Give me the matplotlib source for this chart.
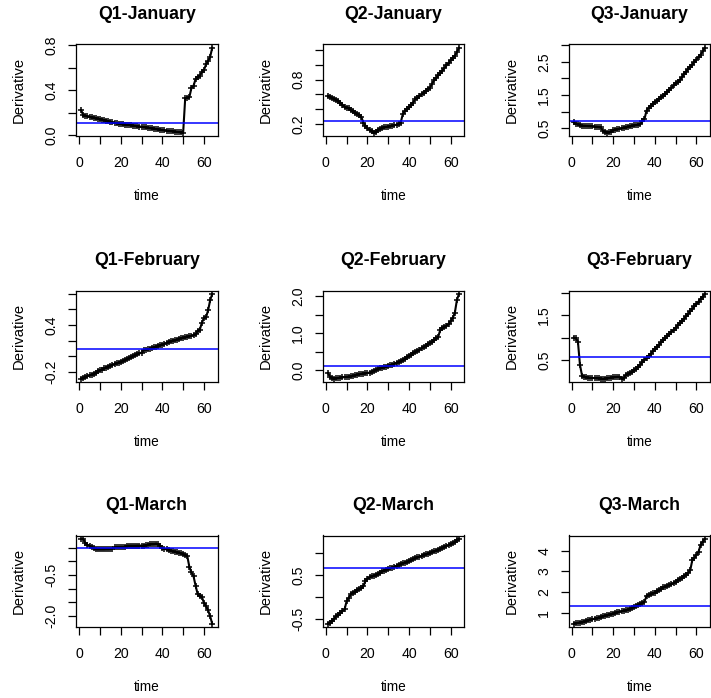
import numpy as np
import matplotlib
matplotlib.use("Agg")
import matplotlib.pyplot as plt

plt.rcParams['font.family'] = ['Liberation Sans', 'DejaVu Sans']

titles = ["Q1-January", "Q2-January", "Q3-January",
          "Q1-February", "Q2-February", "Q3-February",
          "Q1-March", "Q2-March", "Q3-March"]

q1_jan = [0.22, 0.175, 0.17, 0.165, 0.16, 0.156, 0.152, 0.148, 0.145, 0.141,
          0.136, 0.132, 0.128, 0.122, 0.117, 0.112, 0.109, 0.105, 0.101, 0.097,
          0.095, 0.093, 0.091, 0.089, 0.086, 0.083, 0.081, 0.078, 0.075, 0.073,
          0.07, 0.067, 0.064, 0.061, 0.058, 0.055, 0.052, 0.049, 0.046, 0.043,
          0.041, 0.039, 0.037, 0.034, 0.032, 0.03, 0.027, 0.025, 0.022, 0.02,
          0.33, 0.33, 0.34, 0.42, 0.44, 0.50, 0.52, 0.53, 0.565, 0.58,
          0.63, 0.66, 0.70, 0.78]
q2_jan = [0.58, 0.565, 0.55, 0.54, 0.525, 0.51, 0.49, 0.46, 0.43, 0.42,
          0.41, 0.39, 0.37, 0.355, 0.34, 0.32, 0.30,
          0.22, 0.18, 0.14, 0.12, 0.10, 0.083, 0.09, 0.12, 0.137, 0.145,
          0.155, 0.16, 0.165, 0.172, 0.18, 0.185, 0.19, 0.205, 0.22,
          0.335, 0.38, 0.40, 0.425, 0.46, 0.49, 0.54, 0.55, 0.575, 0.60,
          0.625, 0.65, 0.67, 0.69, 0.74, 0.79, 0.82, 0.855, 0.885, 0.92,
          0.955, 0.99, 1.025, 1.06, 1.09, 1.12, 1.17, 1.23]
q3_jan = [0.67, 0.62, 0.62, 0.58, 0.57, 0.57, 0.565, 0.56, 0.555, 0.55,
          0.545, 0.54, 0.53, 0.52, 0.42, 0.39, 0.36, 0.37, 0.39, 0.44,
          0.455, 0.47, 0.48, 0.49, 0.505, 0.52, 0.535, 0.55, 0.565, 0.58,
          0.59, 0.60, 0.62, 0.70, 0.77, 1.03, 1.11, 1.18, 1.23, 1.29,
          1.33, 1.38, 1.43, 1.48, 1.53, 1.6, 1.66, 1.72, 1.79, 1.85,
          1.9, 1.95, 2.04, 2.13, 2.21, 2.28, 2.35, 2.42, 2.5, 2.57,
          2.65, 2.72, 2.82, 2.93]
q1_feb = [-0.29, -0.28, -0.27, -0.255, -0.245, -0.235, -0.222, -0.21, -0.195, -0.18,
          -0.17, -0.155, -0.145, -0.132, -0.12, -0.11, -0.1, -0.09, -0.08, -0.07,
          -0.06, -0.048, -0.036, -0.025, -0.013, 0.0, 0.012, 0.025, 0.037, 0.048,
          0.075, 0.08, 0.088, 0.097, 0.105, 0.114, 0.123, 0.132, 0.141, 0.15,
          0.16, 0.17, 0.18, 0.19, 0.2, 0.207, 0.215, 0.222, 0.23, 0.237,
          0.243, 0.25, 0.256, 0.263, 0.27, 0.28, 0.33, 0.34, 0.43, 0.49,
          0.50, 0.59, 0.72, 0.80]
q2_feb = [-0.08, -0.18, -0.22, -0.24, -0.225, -0.215, -0.205, -0.2, -0.19, -0.185,
          -0.18, -0.17, -0.16, -0.145, -0.13, -0.115, -0.1, -0.095, -0.085, -0.08,
          -0.07, -0.045, -0.02, 0.0, 0.03, 0.045, 0.06, 0.075, 0.09, 0.11,
          0.13, 0.15, 0.175, 0.2, 0.22, 0.24, 0.275, 0.31, 0.35, 0.39,
          0.42, 0.455, 0.49, 0.525, 0.555, 0.59, 0.625, 0.66, 0.7, 0.735,
          0.77, 0.81, 0.86, 0.9, 1.09, 1.13, 1.17, 1.2, 1.26, 1.33,
          1.42, 1.55, 1.9, 2.07]
q3_feb = [1.0, 0.98, 0.91, 0.39, 0.15, 0.12, 0.115, 0.11, 0.105, 0.1,
          0.1, 0.095, 0.09, 0.085, 0.08, 0.085, 0.09, 0.1, 0.11, 0.115,
          0.12, 0.125, 0.13, 0.085, 0.1, 0.16, 0.185, 0.21, 0.24, 0.27,
          0.31, 0.35, 0.4, 0.45, 0.5, 0.55, 0.595, 0.64, 0.69, 0.74,
          0.79, 0.84, 0.89, 0.935, 0.98, 1.03, 1.08, 1.13, 1.17, 1.22,
          1.27, 1.32, 1.37, 1.42, 1.47, 1.52, 1.58, 1.63, 1.69, 1.74,
          1.8, 1.86, 1.91, 1.97]
q1_mar = [0.825, 0.825, 0.66, 0.6, 0.575, 0.51, 0.475, 0.44, 0.44, 0.44,
          0.44, 0.44, 0.445, 0.445, 0.45, 0.45, 0.525, 0.525, 0.525, 0.53,
          0.53, 0.53, 0.575, 0.575, 0.575, 0.575, 0.575, 0.58, 0.58, 0.58,
          0.58, 0.585, 0.59, 0.625, 0.625, 0.63, 0.65, 0.625, 0.56, 0.475,
          0.46, 0.44, 0.415, 0.39, 0.37, 0.35, 0.33, 0.31, 0.29, 0.26,
          0.225, 0.19, -0.21, -0.4, -0.55, -0.9, -1.21, -1.275, -1.31, -1.525,
          -1.65, -1.8, -2.025, -2.3]
q2_mar = [-0.61, -0.58, -0.54, -0.49, -0.44, -0.4, -0.36, -0.32, -0.28, -0.09,
          -0.015, 0.06, 0.1, 0.12, 0.155, 0.18, 0.2, 0.24, 0.36, 0.41,
          0.45, 0.47, 0.485, 0.5, 0.52, 0.55, 0.58, 0.6, 0.62, 0.64,
          0.655, 0.67, 0.69, 0.71, 0.73, 0.745, 0.765, 0.78, 0.795, 0.81,
          0.835, 0.86, 0.88, 0.9, 0.915, 0.935, 0.955, 0.97, 0.985, 1.0,
          1.02, 1.035, 1.05, 1.075, 1.1, 1.12, 1.14, 1.16, 1.18, 1.2,
          1.225, 1.25, 1.285, 1.32]
q3_mar = [0.475, 0.51, 0.525, 0.54, 0.565, 0.59, 0.615, 0.64, 0.67, 0.7,
          0.725, 0.75, 0.775, 0.8, 0.835, 0.87, 0.895, 0.92, 0.945, 0.97,
          1.0, 1.03, 1.055, 1.08, 1.105, 1.13, 1.165, 1.2, 1.25, 1.3,
          1.345, 1.39, 1.44, 1.49, 1.54, 1.82, 1.85, 1.9, 1.94, 1.98,
          2.04, 2.1, 2.165, 2.23, 2.27, 2.31, 2.345, 2.38, 2.445, 2.51,
          2.575, 2.64, 2.705, 2.77, 2.85, 2.93, 3.05, 3.54, 3.66, 3.79,
          3.95, 4.28, 4.44, 4.57]

series = [q1_jan, q2_jan, q3_jan, q1_feb, q2_feb, q3_feb, q1_mar, q2_mar, q3_mar]
ref_lines = [0.109, 0.236, 0.70, 0.09, 0.10, 0.56, 0.5, 0.66, 1.33]

y_ticks = [
    [0.0, 0.2, 0.4, 0.6, 0.8],
    [0.2, 0.4, 0.6, 0.8, 1.0, 1.2],
    [0.5, 1.0, 1.5, 2.0, 2.5, 3.0],
    [-0.2, 0.0, 0.2, 0.4, 0.6, 0.8],
    [0.0, 0.5, 1.0, 1.5, 2.0],
    [0.5, 1.0, 1.5, 2.0],
    [0.5, 0.0, -0.5, -1.0, -1.5, -2.0],
    [-0.5, 0.0, 0.5, 1.0],
    [1, 2, 3, 4],
]
y_labels = [
    ["0.0", "", "0.4", "", "0.8"],
    ["0.2", "", "", "0.8", "", ""],
    ["0.5", "", "1.5", "", "2.5", ""],
    ["-0.2", "", "", "0.4", "", ""],
    ["0.0", "", "1.0", "", "2.0"],
    ["0.5", "", "1.5", ""],
    ["", "", "-0.5", "", "", "-2.0"],
    ["-0.5", "", "0.5", ""],
    ["1", "2", "3", "4"],
]
x_ticks = [0, 10, 20, 30, 40, 50, 60]
x_labels = ["0", "", "20", "", "40", "", "60"]

W, H = 711, 698
fig = plt.figure(figsize=(W / 100, H / 100), dpi=100)

col_left = [76, 322.7, 568.5]
row_top = [44.3, 290.5, 535.5]
bw, bh = 141.5, 91.8

for i in range(9):
    r, c = divmod(i, 3)
    left = col_left[c] / W
    bottom = 1 - (row_top[r] + bh) / H
    ax = fig.add_axes([left, bottom, bw / W, bh / H])
    y = np.array(series[i])
    t = np.arange(1, len(y) + 1)
    ax.plot(t, y, color='black', lw=1.5, marker='+', ms=4, mew=1.1)
    ax.margins(x=0.04, y=0.04)
    ax.axhline(ref_lines[i], color='#0000FF', lw=1.1)
    ax.set_xticks(x_ticks)
    ax.set_xticklabels(x_labels)
    ax.set_yticks(y_ticks[i])
    ax.set_yticklabels(y_labels[i])
    ax.tick_params(axis='both', direction='out', length=5.5, width=0.9,
                   labelsize=10.2, colors='black')
    ax.tick_params(axis='x', pad=9)
    ax.tick_params(axis='y', pad=7, labelrotation=90)
    for lab in ax.get_yticklabels():
        lab.set_va('center')
    for sp in ax.spines.values():
        sp.set_linewidth(0.9)
    ax.set_title(titles[i], fontsize=12.8, fontweight='bold', pad=18.5)
    ax.set_xlabel("time", fontsize=9.8)
    ax.xaxis.set_label_coords(0.5, -52.5 / bh)
    ax.set_ylabel("Derivative", fontsize=10.6)
    ax.yaxis.set_label_coords(-57.0 / bw, 0.5)
    ax.yaxis.label.set_va('center')

fig.savefig("out.png", dpi=100)
